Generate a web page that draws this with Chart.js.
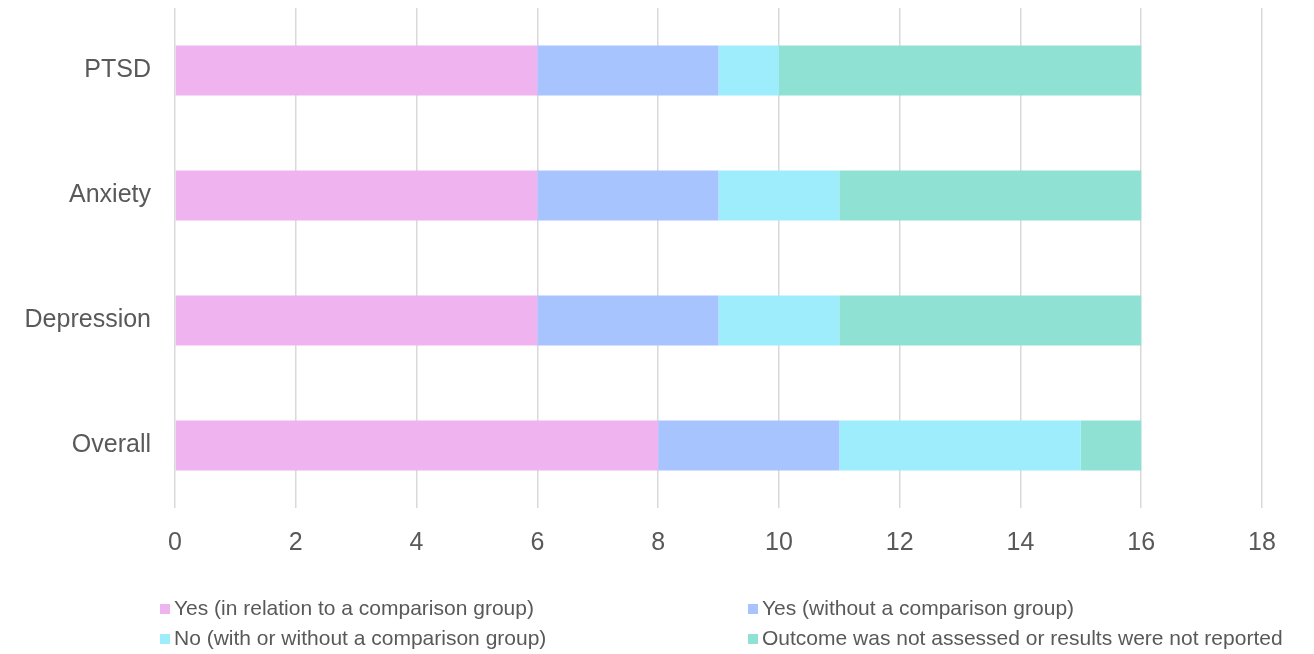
<!DOCTYPE html>
<html>
<head>
<meta charset="utf-8">
<script src="https://cdn.jsdelivr.net/npm/chart.js@4"></script>
<style>
    html, body { margin: 0; padding: 0; background: #fff; }
    #wrap { position: relative; width: 1314px; height: 654px; }
    #wrap canvas { display: block; }
    #legend { position: absolute; left: 0; top: 0; width: 1314px; height: 654px; pointer-events: none;
              font-family: 'Liberation Sans', Arial, sans-serif; font-size: 21px; color: #595959; }
    .item { position: absolute; white-space: nowrap; line-height: 24px; }
    .box { display: inline-block; width: 10px; height: 10px; margin-right: 4px; vertical-align: 1px; }
</style>
</head>
<body>
<div id="wrap">
    <canvas id="outcome-chart" width="1314" height="654"></canvas>
    <div id="legend"></div>
</div>
<script>
// Categories (top to bottom)
const categories = ['PTSD', 'Anxiety', 'Depression', 'Overall'];

// Series values
const seriesLabels = [
    'Yes (in relation to a comparison group)',
    'Yes (without a comparison group)',
    'No (with or without a comparison group)',
    'Outcome was not assessed or results were not reported'
];
const yesComparison = [6, 6, 6, 8];
const yesNoComparison = [3, 3, 3, 3];
const noEffect = [1, 2, 2, 4];
const notAssessed = [6, 5, 5, 1];

// Axis ticks
const xTicks = [0, 2, 4, 6, 8, 10, 12, 14, 16, 18];

const seriesColors = ['#EFB3F0', '#A7C4FF', '#9DEDFD', '#8FE1D4'];
const seriesData = [yesComparison, yesNoComparison, noEffect, notAssessed];

const FONT = "'Liberation Sans', Arial, sans-serif";
const TEXT_COLOR = '#595959';

function initOutcomeChart() {
    const ctx = document.getElementById('outcome-chart');

    const chart = new Chart(ctx, {
        type: 'bar',
        data: {
            labels: categories,
            datasets: seriesData.map((data, i) => ({
                label: seriesLabels[i],
                data: data,
                backgroundColor: seriesColors[i],
                borderWidth: 0,
                barPercentage: 0.4,
                categoryPercentage: 1.0
            }))
        },
        options: {
            indexAxis: 'y',
            responsive: false,
            animation: false,
            layout: {
                padding: { top: 8, right: 52, bottom: 86, left: 0 }
            },
            plugins: {
                legend: { display: false },
                tooltip: { enabled: false }
            },
            scales: {
                x: {
                    stacked: true,
                    min: xTicks[0],
                    max: xTicks[xTicks.length - 1],
                    afterBuildTicks: (axis) => {
                        axis.ticks = xTicks.map(v => ({ value: v }));
                    },
                    afterFit: (axis) => { axis.height = 60; },
                    border: { display: false },
                    grid: {
                        color: '#D9D9D9',
                        lineWidth: 1.5,
                        drawTicks: false
                    },
                    ticks: {
                        color: TEXT_COLOR,
                        padding: 20,
                        font: { size: 25, family: FONT }
                    }
                },
                y: {
                    stacked: true,
                    afterFit: (axis) => {
                        axis.width = 175;
                        // labels sit mid-category, no extra room needed above/below
                        axis.paddingTop = 0;
                        axis.paddingBottom = 0;
                    },
                    border: { display: false },
                    grid: { display: false, drawTicks: false },
                    ticks: {
                        color: TEXT_COLOR,
                        padding: 24,
                        font: { size: 25, family: FONT }
                    }
                }
            }
        }
    });

    buildLegend(chart);
}

// Two-column legend under the plot
function buildLegend(chart) {
    const legend = document.getElementById('legend');
    const cols = [160, 748];
    const rows = [596, 626];
    chart.data.datasets.forEach((ds, i) => {
        const item = document.createElement('div');
        item.className = 'item';
        item.style.left = cols[i % 2] + 'px';
        item.style.top = rows[Math.floor(i / 2)] + 'px';
        const box = document.createElement('span');
        box.className = 'box';
        box.style.background = ds.backgroundColor;
        item.appendChild(box);
        item.appendChild(document.createTextNode(ds.label));
        legend.appendChild(item);
    });
}

initOutcomeChart();
</script>
</body>
</html>
